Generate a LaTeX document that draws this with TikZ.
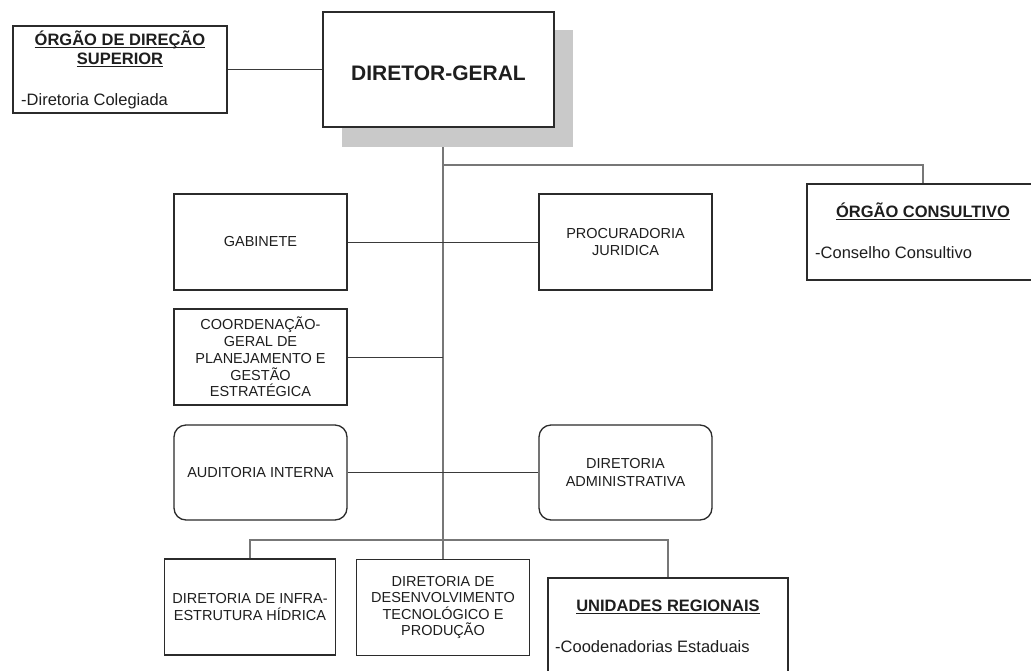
\documentclass[tikz,border=0pt]{standalone}
\usepackage{fontspec}
\setmainfont{Liberation Sans}
\definecolor{boxc}{HTML}{2B2B2B}
\definecolor{linec}{HTML}{3A3A3A}
\definecolor{trunkc}{HTML}{777777}
\definecolor{txt}{HTML}{1E1E1E}
\definecolor{shadowc}{HTML}{C9C9C9}
\newcommand{\myul}[1]{\setbox0\hbox{#1}\rlap{\rule[-2.6pt]{\wd0}{1.1pt}}\box0}
\begin{document}
\begin{tikzpicture}[x=1pt,y=-1pt,
  frame/.style={draw=boxc, line width=1.3pt, fill=white, inner sep=0pt},
  box/.style={frame, align=center, text=txt, font=\fontsize{14.5}{17}\selectfont},
  rbox/.style={box, rounded corners=12pt},
  ttl/.style={anchor=base, text=txt, inner sep=0pt, font=\bfseries\fontsize{16.5}{19}\selectfont},
  itm/.style={anchor=base west, text=txt, inner sep=0pt, font=\fontsize{16.5}{19}\selectfont},
  conn/.style={draw=linec, line width=1pt},
  trunk/.style={draw=trunkc, line width=1.2pt}]
\useasboundingbox[fill=white] (0,0) rectangle (1031,670);

% top level
\node[fill=shadowc, inner sep=0pt, minimum width=231pt, minimum height=117pt] (dgshadow) at (457.5,88.5) {};
\node[frame, minimum width=231pt, minimum height=115pt] (dg) at (438.5,69.5) {};
\node[anchor=base, text=txt, inner sep=0pt, font=\bfseries\fontsize{21}{25}\selectfont] (dgt) at (438.5,80.5) {DIRETOR-GERAL};

\node[frame, minimum width=214pt, minimum height=87pt] (ods) at (120,69.5) {};
\node[ttl] (odst1) at (120,45) {\myul{ÓRGÃO DE DIREÇÃO}};
\node[ttl] (odst2) at (120,64) {\myul{SUPERIOR}};
\node[itm] (odsi) at (21,105) {-Diretoria Colegiada};

\node[frame, minimum width=232pt, minimum height=96pt] (cons) at (923,232) {};
\node[ttl] (const) at (923,217) {\myul{ÓRGÃO CONSULTIVO}};
\node[itm] (consi) at (815,258) {-Conselho Consultivo};

% middle
\node[box, minimum width=173pt, minimum height=96pt] (gab) at (260.5,242) {GABINETE};
\node[box, minimum width=173pt, minimum height=96pt, font=\fontsize{14.5}{17.7}\selectfont] (proc) at (625.5,242) {PROCURADORIA\\JURIDICA};
\node[box, minimum width=173pt, minimum height=96pt, font=\fontsize{14.5}{16.7}\selectfont] (coord) at (260.5,357) {COORDENAÇÃO-\\GERAL DE\\PLANEJAMENTO E\\GESTÃO\\ESTRATÉGICA};
\node[rbox, minimum width=173pt, minimum height=95pt] (aud) at (260.5,472.5) {AUDITORIA INTERNA};
\node[rbox, minimum width=173pt, minimum height=95pt, font=\fontsize{14.5}{18.3}\selectfont] (adm) at (625.5,472.5) {DIRETORIA\\ADMINISTRATIVA};

% bottom
\node[box, minimum width=171pt, minimum height=96pt, font=\fontsize{14.5}{16.7}\selectfont] (infra) at (250,607) {DIRETORIA DE INFRA-\\ESTRUTURA HÍDRICA};
\node[box, minimum width=173pt, minimum height=96pt, font=\fontsize{14.5}{16.2}\selectfont] (desen) at (443,607.5) {DIRETORIA DE\\DESENVOLVIMENTO\\TECNOLÓGICO E\\PRODUÇÃO};
\node[frame, minimum width=240pt, minimum height=110pt] (unid) at (668,633) {};
\node[ttl] (unidt) at (668,611) {\myul{UNIDADES REGIONAIS}};
\node[itm] (unidi) at (555,652) {-Coodenadorias Estaduais};

% connectors
\coordinate (t0) at (443,147);
\coordinate (tc) at (443,165);
\coordinate (tcoord) at (443,357);
\coordinate (bar) at (443,540);
\draw[conn] (ods.east) -- (dg.west);
\draw[trunk] (t0) -- (desen.north);
\draw[trunk] (tc) -| (cons.north);
\draw[conn] (gab.east) -- (proc.west);
\draw[conn] (coord.east) -- (tcoord);
\draw[conn] (aud.east) -- (adm.west);
\draw[trunk] (infra.north) |- (bar) -| (unid.north);
\end{tikzpicture}
\end{document}
